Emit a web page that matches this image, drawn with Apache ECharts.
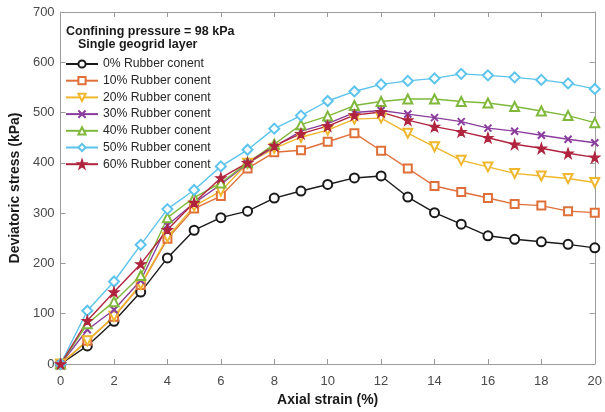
<!DOCTYPE html>
<html>
<head>
<meta charset="utf-8">
<script src="https://cdn.jsdelivr.net/npm/echarts@6/dist/echarts.min.js"></script>
<style>
  html, body { margin: 0; padding: 0; background: #fff; }
  #chart { width: 605px; height: 412px; }
</style>
</head>
<body>
<div id="chart"></div>
<script>
// Axial strain (%) sampling points
const strain = [0,1,2,3,4,5,6,7,8,9,10,11,12,13,14,15,16,17,18,19,20];

// Deviatoric stress (kPa) for each rubber content
const rubber0  = [0,36,85,143,211,266,291,304,330,344,357,370,374,332,301,278,255,248,243,238,231];
const rubber10 = [0,46,94,157,249,309,334,389,421,425,442,459,424,389,354,342,330,318,315,304,301];
const rubber20 = [0,46,95,158,252,314,344,399,429,451,465,487,489,459,432,405,392,379,374,369,361];
const rubber30 = [0,68,108,166,276,320,357,399,432,463,478,500,504,497,490,482,469,463,455,447,440];
const rubber40 = [0,80,124,176,291,331,360,400,437,476,493,514,522,527,527,522,519,512,503,494,480];
const rubber50 = [0,106,164,237,308,346,393,426,468,494,523,542,556,563,568,577,574,570,565,558,547];
const rubber60 = [0,86,143,199,267,321,370,400,434,458,473,495,501,485,472,462,450,437,429,419,411];

const seriesNames = [
  '0% Rubber conent', '10% Rubber conent', '20% Rubber conent', '30% Rubber conent',
  '40% Rubber conent', '50% Rubber conent', '60% Rubber conent'
];
const seriesValues = [rubber0, rubber10, rubber20, rubber30, rubber40, rubber50, rubber60];

const xTicks = [0,2,4,6,8,10,12,14,16,18,20];
const yTicks = [0,100,200,300,400,500,600,700];

const colors = ['#1a1a1a', '#e0703a', '#f0b72e', '#8a3d9c', '#7fb83a', '#5cc4ec', '#b0243e'];

const crossPath = 'path://M0,0L10,10M10,0L0,10';
const starPath = 'path://M5,0L6.18,3.62L10,3.62L6.9,5.86L8.09,9.5L5,7.25L1.91,9.5L3.1,5.86L0,3.62L3.82,3.62Z';

const markers = [
  { symbol: 'emptyCircle', size: 9, rotate: 0 },
  { symbol: 'emptyRect', size: 8, rotate: 0 },
  { symbol: 'emptyTriangle', size: 9, rotate: 180 },
  { symbol: 'empty' + crossPath, size: 7, rotate: 0 },
  { symbol: 'emptyTriangle', size: 9, rotate: 0 },
  { symbol: 'emptyDiamond', size: 10, rotate: 0 },
  { symbol: starPath, size: 10, rotate: 0 }
];

const fontFamily = '"Liberation Sans", Arial, sans-serif';
const axisGray = '#9a9a9a';
const labelGray = '#4a4a4a';

const series = seriesNames.map((name, i) => ({
  name: name,
  type: 'line',
  data: strain.map((x, k) => [x, seriesValues[i][k]]),
  symbol: markers[i].symbol,
  symbolSize: markers[i].size,
  symbolRotate: markers[i].rotate,
  showAllSymbol: true,
  clip: false,
  color: colors[i],
  lineStyle: { width: 1.4, color: colors[i] },
  itemStyle: { color: colors[i], borderColor: colors[i], borderWidth: 1.2 },
  emphasis: { disabled: true }
}));

const chart = echarts.init(document.getElementById('chart'), null, { renderer: 'canvas' });

chart.setOption({
  animation: false,
  backgroundColor: '#fff',
  grid: { left: 57, right: 8, top: 12, bottom: 48, containLabel: false },
  legend: {
    orient: 'vertical',
    left: 65,
    top: 57,
    padding: 0,
    itemWidth: 32,
    itemHeight: 9,
    itemGap: 2.7,
    itemTextGap: 4,
    selectedMode: false,
    data: seriesNames,
    textStyle: { fontFamily: fontFamily, fontSize: 12.2, color: '#262626', lineHeight: 14 }
  },
  graphic: [
    {
      type: 'text', left: 66, top: 25.5,
      style: { text: 'Confining pressure = 98 kPa', font: 'bold 12.5px ' + fontFamily, fill: '#1a1a1a' }
    },
    {
      type: 'text', left: 78, top: 38.5,
      style: { text: 'Single geogrid layer', font: 'bold 12.5px ' + fontFamily, fill: '#1a1a1a' }
    }
  ],
  xAxis: [
    {
      type: 'value', min: 0, max: 20, interval: 2,
      name: 'Axial strain (%)', nameLocation: 'middle', nameGap: 27,
      nameTextStyle: { fontFamily: fontFamily, fontSize: 14, fontWeight: 'bold', color: '#1a1a1a' },
      axisLine: { show: true, onZero: false, lineStyle: { color: axisGray, width: 1 } },
      axisTick: { show: true, inside: true, length: 5, lineStyle: { color: axisGray } },
      axisLabel: {
        margin: 11, fontFamily: fontFamily, fontSize: 13, color: labelGray,
        customValues: xTicks
      },
      splitLine: { show: false }
    },
    {
      type: 'value', min: 0, max: 20, interval: 2, position: 'top',
      axisLine: { show: true, onZero: false, lineStyle: { color: axisGray, width: 1 } },
      axisTick: { show: true, inside: true, length: 5, lineStyle: { color: axisGray } },
      axisLabel: { show: false },
      splitLine: { show: false }
    }
  ],
  yAxis: [
    {
      type: 'value', min: 0, max: 700, interval: 100,
      name: 'Deviatoric stress (kPa)', nameLocation: 'middle', nameGap: 30,
      nameTextStyle: { fontFamily: fontFamily, fontSize: 14, fontWeight: 'bold', color: '#1a1a1a' },
      axisLine: { show: true, onZero: false, lineStyle: { color: axisGray, width: 1 } },
      axisTick: { show: true, inside: true, length: 5, lineStyle: { color: axisGray } },
      axisLabel: {
        margin: 6, fontFamily: fontFamily, fontSize: 13, color: labelGray,
        customValues: yTicks
      },
      splitLine: { show: false }
    },
    {
      type: 'value', min: 0, max: 700, interval: 100, position: 'right',
      axisLine: { show: true, onZero: false, lineStyle: { color: axisGray, width: 1 } },
      axisTick: { show: true, inside: true, length: 5, lineStyle: { color: axisGray } },
      axisLabel: { show: false },
      splitLine: { show: false }
    }
  ],
  series: series
});
</script>
</body>
</html>
